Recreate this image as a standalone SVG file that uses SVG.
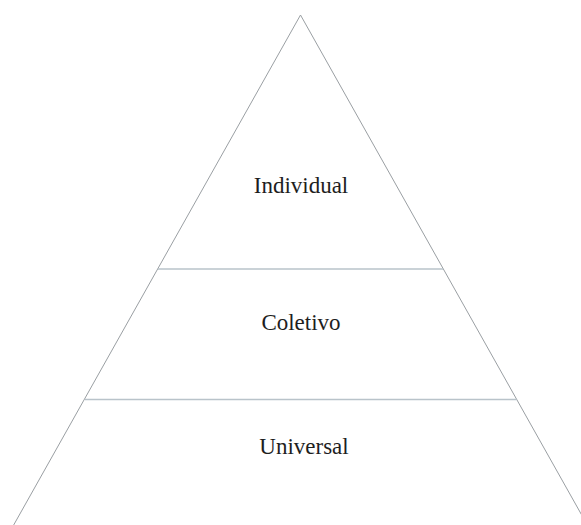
<svg xmlns="http://www.w3.org/2000/svg" width="581" height="525" viewBox="0 0 581 525">
  <style>
    .edge { stroke: #9a9fa3; stroke-width: 1; fill: none; }
    .tier { stroke: #b9c3ca; stroke-width: 1.3; fill: none; }
    .label { font-family: "Liberation Serif", "Times New Roman", serif; font-size: 23px; fill: #1e1e1e; text-anchor: middle; }
  </style>
  <rect width="581" height="525" fill="#ffffff"/>
  <g id="connectors">
    <!-- pyramid outline -->
    <line class="edge" x1="300.5" y1="15" x2="12" y2="528"/>
    <line class="edge" x1="300.5" y1="15" x2="589" y2="528"/>
    <!-- tier dividers -->
    <line class="tier" x1="158" y1="269" x2="443" y2="269"/>
    <line class="tier" x1="85" y1="399.5" x2="516.5" y2="399.5"/>
  </g>
  <g id="individual">
    <text class="label" x="301" y="193">Individual</text>
  </g>
  <g id="coletivo">
    <text class="label" x="301" y="330">Coletivo</text>
  </g>
  <g id="universal">
    <text class="label" x="304" y="454">Universal</text>
  </g>
</svg>
